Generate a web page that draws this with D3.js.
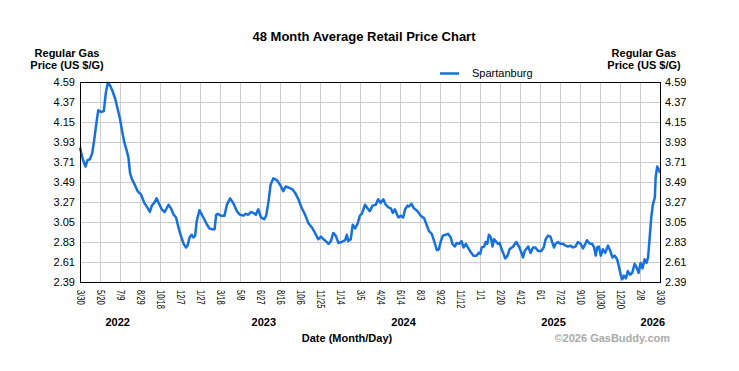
<!DOCTYPE html>
<html>
<head>
<meta charset="utf-8">
<script src="https://cdn.jsdelivr.net/npm/d3@7"></script>
<style>
  body { margin: 0; background: #fff; }
  svg { display: block; font-family: "Liberation Sans", Arial, sans-serif; }
  .tick line { stroke: #cccccc; shape-rendering: crispEdges; }
  .bold { font-weight: bold; }
</style>
</head>
<body>
<div id="chart"></div>
<script>
// chart data
var startDate = "2022-03-30";
var endDate = "2026-03-30";
var seriesName = "Spartanburg";

// days since startDate
var days = [0,7,14,19,25,31,36,42,46,53,60,65,70,76,82,89,95,101,106,112,118,122,126,131,139,145,154,162,171,176,
  181,187,193,198,206,213,217,223,229,236,242,248,254,261,267,271,276,281,286,290,294,301,307,313,320,326,332,339,343,347,355,364,
  370,378,386,395,403,412,417,424,430,437,443,449,456,464,469,475,480,487,496,504,512,518,525,535,542,550,558,567,575,584,
  592,600,607,613,619,626,632,638,644,651,659,668,672,676,682,687,693,699,705,710,718,726,
  730,737,745,751,757,764,770,777,783,788,793,802,808,814,819,825,829,835,841,850,858,867,873,879,886,892,899,904,909,914,
  921,927,934,938,944,949,955,961,966,972,977,984,991,999,1004,1008,1012,1018,1022,1026,1030,1035,1039,1043,1047,1053,1057,
  1062,1066,1071,1077,1082,1091,1099,1106,1112,1116,1120,1129,1135,1141,1147,1154,1162,1168,1173,1179,1185,1190,1194,1198,
  1204,1210,1217,1223,1229,1235,1242,1248,1254,1261,1267,1273,1277,1284,1290,1295,1299,1303,1307,1312,1317,1323,1330,1336,
  1341,1347,1353,1358,1362,1366,1370,1375,1380,1386,1391,1397,1402,1407,1412,1417,1422,1427,1431,1435,1439,1443,1448,1450,
  1454,1458,1461];

var prices = [3.87,3.74,3.66,3.73,3.74,3.81,3.96,4.16,4.28,4.26,4.27,4.47,4.58,4.55,4.49,4.40,4.29,4.18,4.05,3.92,
  3.83,3.76,3.59,3.52,3.45,3.39,3.35,3.26,3.20,3.16,3.23,3.26,3.31,3.26,3.19,3.16,3.19,3.24,3.20,3.13,
  3.10,2.99,2.90,2.81,2.77,2.79,2.88,2.91,2.88,2.90,3.06,3.18,3.13,3.08,3.02,2.98,2.97,2.97,3.13,3.14,3.12,3.12,
  3.24,3.31,3.26,3.17,3.13,3.12,3.14,3.13,3.16,3.15,3.13,3.19,3.10,3.08,3.12,3.28,3.46,3.53,3.51,3.46,
  3.39,3.44,3.43,3.41,3.37,3.30,3.21,3.13,3.04,2.99,2.93,2.86,2.89,2.86,2.84,2.81,2.84,2.93,2.90,2.82,
  2.83,2.85,2.91,2.84,2.86,3.02,2.98,3.03,3.12,3.14,3.24,3.19,
  3.17,3.23,3.24,3.30,3.26,3.30,3.24,3.21,3.20,3.15,3.19,3.10,3.12,3.10,3.19,3.23,3.22,3.25,3.20,3.17,
  3.12,3.09,3.02,2.95,2.92,2.84,2.74,2.75,2.84,2.90,2.91,2.92,2.88,2.81,2.78,2.82,2.81,2.84,2.77,2.81,
  2.77,2.72,2.68,2.68,2.71,2.70,2.77,2.78,2.83,2.81,2.91,2.88,2.78,2.86,2.84,2.81,2.82,2.75,2.71,2.65,2.68,2.75,
  2.78,2.83,2.78,2.71,2.66,2.73,2.78,2.71,2.77,2.77,2.73,2.73,2.77,2.86,2.90,2.89,2.82,2.77,2.81,2.83,
  2.81,2.81,2.79,2.78,2.79,2.77,2.78,2.83,2.81,2.76,2.81,2.85,2.81,2.81,2.77,2.68,2.77,2.78,2.68,2.75,
  2.71,2.79,2.73,2.66,2.68,2.64,2.55,2.47,2.42,2.46,2.43,2.51,2.47,2.49,2.59,2.55,2.49,2.60,2.54,2.64,
  2.60,2.66,2.88,3.10,3.24,3.32,3.54,3.66,3.63,3.59];

// axis ticks
var yTicks = [2.39,2.61,2.83,3.05,3.27,3.49,3.71,3.93,4.15,4.37,4.59];
var xTickDates = ["2022-03-30","2022-05-20","2022-07-09","2022-08-29","2022-10-18","2022-12-07","2023-01-27","2023-03-18",
  "2023-05-08","2023-06-27","2023-08-16","2023-10-06","2023-11-25","2024-01-14","2024-03-05","2024-04-24","2024-06-14",
  "2024-08-03","2024-09-22","2024-11-12","2025-01-01","2025-02-20","2025-04-12","2025-06-01","2025-07-22","2025-09-10",
  "2025-10-30","2025-12-20","2026-02-08","2026-03-30"];
var yearLabels = ["2022","2023","2024","2025","2026"];
var yearAnchors = ["2022-07-03","2023-07-06","2024-06-22","2025-07-05","2026-03-12"];

// basic setup
var svgWidth = 739;
var svgHeight = 371;
var margin = { top: 82, right: 79, bottom: 89, left: 80 };
var width = svgWidth - margin.left - margin.right;
var height = svgHeight - margin.top - margin.bottom;
var lineColor = "#1670de";

var parseDate = d3.utcParse("%Y-%m-%d");
var fmtTick = d3.utcFormat("%-m/%-d");
var start = parseDate(startDate);

var data = days.map(function(d, i) {
  return { date: d3.utcDay.offset(start, d), price: prices[i] };
});

var svg = d3.select("#chart")
  .append("svg")
  .attr("width", svgWidth)
  .attr("height", svgHeight);

var chartGroup = svg.append("g")
  .attr("transform", `translate(${margin.left}, ${margin.top})`);

// scales
var xScale = d3.scaleUtc()
  .domain([start, parseDate(endDate)])
  .range([0, width]);

var yScale = d3.scaleLinear()
  .domain([2.39, 4.59])
  .range([height, 0]);

// grid
chartGroup.append("g")
  .attr("class", "grid")
  .call(d3.axisBottom(xScale).tickValues(xTickDates.map(parseDate)).tickSize(height).tickFormat(""))
  .call(g => g.select(".domain").remove());

chartGroup.append("g")
  .attr("class", "grid")
  .call(d3.axisLeft(yScale).tickValues(yTicks).tickSize(-width).tickFormat(""))
  .call(g => g.select(".domain").remove());

// left and right axes
var leftAxis = chartGroup.append("g")
  .call(d3.axisLeft(yScale).tickValues(yTicks).tickSize(0).tickPadding(5).tickFormat(d3.format(".2f")));
var rightAxis = chartGroup.append("g")
  .attr("transform", `translate(${width}, 0)`)
  .call(d3.axisRight(yScale).tickValues(yTicks).tickSize(0).tickPadding(5).tickFormat(d3.format(".2f")));
[leftAxis, rightAxis].forEach(function(g) {
  g.select(".domain").remove();
  g.selectAll("text").style("font-size", "11px").style("font-family", "inherit").attr("fill", "#000");
});

// bottom axis with rotated, slightly narrowed labels
var xAxis = chartGroup.append("g")
  .attr("transform", `translate(0, ${height})`)
  .call(d3.axisBottom(xScale).tickValues(xTickDates.map(parseDate)).tickSize(0).tickFormat(fmtTick));
xAxis.select(".domain").remove();
xAxis.selectAll("text")
  .attr("transform", "rotate(90) scale(0.76, 1)")
  .attr("x", 8 / 0.76)
  .attr("y", 0)
  .attr("dy", "0.36em")
  .style("text-anchor", "start")
  .style("font-size", "10px")
  .style("font-family", "inherit")
  .attr("fill", "#000");

// price line
var line = d3.line()
  .x(d => xScale(d.date))
  .y(d => yScale(d.price));

chartGroup.append("path")
  .datum(data)
  .attr("fill", "none")
  .attr("stroke", lineColor)
  .attr("stroke-width", 2.5)
  .attr("stroke-linejoin", "round")
  .attr("d", line);

// plot border
chartGroup.append("rect")
  .attr("x", 0.5)
  .attr("y", 0.5)
  .attr("width", width)
  .attr("height", height)
  .attr("fill", "none")
  .attr("stroke", "#000")
  .attr("stroke-width", 1);

// year labels
chartGroup.selectAll("text.year")
  .data(yearLabels)
  .enter()
  .append("text")
  .attr("class", "year bold")
  .attr("x", (d, i) => xScale(parseDate(yearAnchors[i])))
  .attr("y", height + 43.5)
  .attr("text-anchor", "middle")
  .style("font-size", "11px")
  .text(d => d);

// titles
svg.append("text")
  .attr("class", "bold")
  .attr("x", 364)
  .attr("y", 41)
  .attr("text-anchor", "middle")
  .style("font-size", "13px")
  .text("48 Month Average Retail Price Chart");

[67, 644].forEach(function(cx) {
  svg.append("text")
    .attr("class", "bold")
    .attr("x", cx)
    .attr("y", 57)
    .attr("text-anchor", "middle")
    .style("font-size", "11px")
    .text("Regular Gas");
  svg.append("text")
    .attr("class", "bold")
    .attr("x", cx)
    .attr("y", 69)
    .attr("text-anchor", "middle")
    .style("font-size", "11px")
    .text("Price (US $/G)");
});

svg.append("text")
  .attr("class", "bold")
  .attr("x", 347)
  .attr("y", 341.5)
  .attr("text-anchor", "middle")
  .style("font-size", "11px")
  .text("Date (Month/Day)");

svg.append("text")
  .attr("class", "bold")
  .attr("x", 670)
  .attr("y", 341.5)
  .attr("text-anchor", "end")
  .attr("fill", "#aaaaaa")
  .style("font-size", "11px")
  .text("\u00a92026 GasBuddy.com");

// legend
var legend = svg.append("g");
legend.append("line")
  .attr("x1", 440)
  .attr("x2", 459)
  .attr("y1", 73.5)
  .attr("y2", 73.5)
  .attr("stroke", lineColor)
  .attr("stroke-width", 2.5);
legend.append("text")
  .attr("x", 472)
  .attr("y", 77)
  .style("font-size", "11px")
  .text(seriesName);
</script>
</body>
</html>
